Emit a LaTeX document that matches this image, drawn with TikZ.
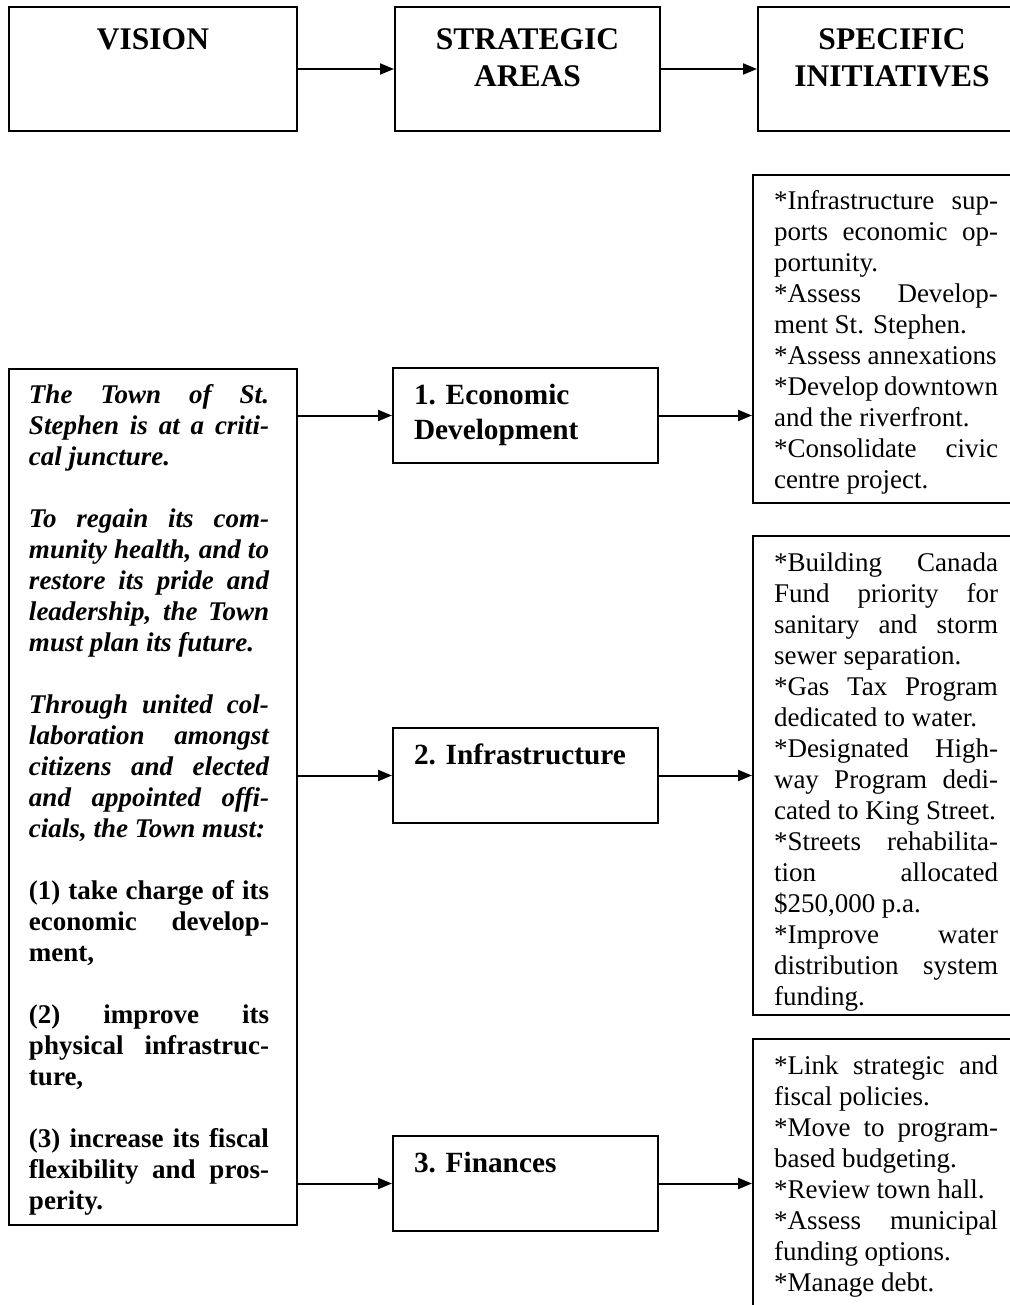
\documentclass[tikz,border=0pt]{standalone}
\usepackage{fontspec}
\setmainfont{Liberation Serif}
\usetikzlibrary{arrows.meta,positioning}

% one justified line, a first-line strut and a blank line
\newcommand{\jl}[1]{\makebox[\linewidth][s]{#1}\par}
\newcommand{\lead}[1]{\rule{0pt}{#1}}
\newcommand{\gap}{\vspace{31pt}}

\begin{document}
\begin{tikzpicture}[x=1pt,y=1pt,
  hdr/.style={draw,line width=2pt,anchor=north west,inner sep=0pt,font=\bfseries\fontsize{31.5}{37}\selectfont},
  area/.style={draw,line width=2pt,anchor=north west,inner sep=0pt,font=\bfseries\fontsize{29.3}{35}\selectfont},
  vis/.style={draw,line width=2pt,anchor=north west,inner sep=0pt,font=\bfseries\fontsize{27}{31}\selectfont},
  init/.style={draw,line width=2pt,anchor=north west,inner sep=0pt,font=\fontsize{27}{31}\selectfont},
  arr/.style={-{Triangle[length=14pt,width=11pt]},line width=2pt}
]
\useasboundingbox (0,0) rectangle (1009,-1305);

% header row
\node[hdr] (vision) at (8,-6) {\parbox[t][124pt][t]{288pt}{\centering\lead{43pt}VISION}};
\node[hdr,right=96pt of vision] (areas) {\parbox[t][124pt][t]{265pt}{\centering\lead{43pt}STRATEGIC\\AREAS}};
\node[hdr,right=96pt of areas] (inits) {\parbox[t][124pt][t]{268pt}{\centering\lead{43pt}SPECIFIC\\INITIATIVES}};
\draw[arr] (vision) -- (areas);
\draw[arr] (areas) -- (inits);

% vision
\node[vis] (vis) at (8,-368) {\kern20pt\parbox[t][856pt][t]{240pt}{\itshape
  \jl{\lead{34pt}The Town of St.}
  \jl{Stephen is at a criti-}
  cal juncture.\par\gap
  \jl{To regain its com-}
  \jl{munity health, and to}
  \jl{restore its pride and}
  \jl{leadership, the Town}
  must plan its future.\par\gap
  \jl{Through united col-}
  \jl{laboration amongst}
  \jl{citizens and elected}
  \jl{and appointed offi-}
  cials, the Town must:\par\gap
  \upshape
  \jl{(1) take charge of its}
  \jl{economic develop-}
  ment,\par\gap
  \jl{(2) improve its}
  \jl{physical infrastruc-}
  ture,\par\gap
  \jl{(3) increase its fiscal}
  \jl{flexibility and pros-}
  perity.\par}\kern28pt};

% strategic areas
\node[area] (econ) at (392,-367) {\kern21pt\parbox[t][95pt][t]{244pt}{\raggedright\lead{36pt}1. Economic\\Development}};
\node[area] (infra) at (392,-727) {\kern21pt\parbox[t][95pt][t]{244pt}{\raggedright\lead{36pt}2. Infrastructure}};
\node[area] (fin) at (392,-1135) {\kern21pt\parbox[t][95pt][t]{244pt}{\raggedright\lead{36pt}3. Finances}};

% specific initiatives
\node[init] (init1) at (752,-174) {\kern21pt\parbox[t][328pt][t]{224pt}{
  \jl{\lead{35pt}*Infrastructure sup-}
  \jl{ports economic op-}
  portunity.\par
  \jl{*Assess Develop-}
  ment St. Stephen.\par
  *Assess annexations\par
  \jl{*Develop downtown}
  and the riverfront.\par
  \jl{*Consolidate civic}
  centre project.\par}\kern23pt};
\node[init] (init2) at (752,-535) {\kern21pt\parbox[t][479pt][t]{224pt}{
  \jl{\lead{35pt}*Building Canada}
  \jl{Fund priority for}
  \jl{sanitary and storm}
  sewer separation.\par
  \jl{*Gas Tax Program}
  dedicated to water.\par
  \jl{*Designated High-}
  \jl{way Program dedi-}
  cated to King Street.\par
  \jl{*Streets rehabilita-}
  \jl{tion allocated}
  \$250,000 p.a.\par
  \jl{*Improve water}
  \jl{distribution system}
  funding.\par}\kern23pt};
\node[init] (init3) at (752,-1038) {\kern21pt\parbox[t][300pt][t]{224pt}{
  \jl{\lead{35pt}*Link strategic and}
  fiscal policies.\par
  \jl{*Move to program-}
  based budgeting.\par
  *Review town hall.\par
  \jl{*Assess municipal}
  funding options.\par
  *Manage debt.\par}\kern23pt};

% links
\draw[arr] (vis.east |- econ.west) -- (econ.west);
\draw[arr] (vis.east |- infra.west) -- (infra.west);
\draw[arr] (vis.east |- fin.west) -- (fin.west);
\draw[arr] (econ.east) -- (econ.east -| init1.west);
\draw[arr] (infra.east) -- (infra.east -| init2.west);
\draw[arr] (fin.east) -- (fin.east -| init3.west);
\end{tikzpicture}
\end{document}
